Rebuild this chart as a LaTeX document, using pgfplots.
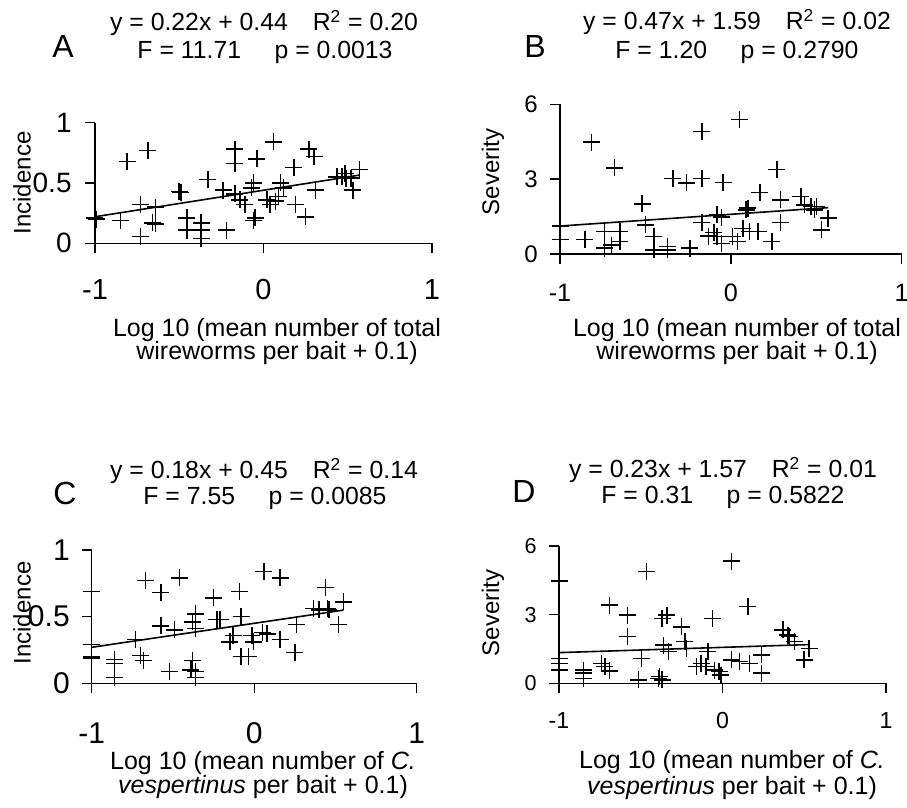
\documentclass[border=0pt]{standalone}
\usepackage{pgfplots}
\pgfplotsset{compat=1.18}
\usepackage{fontspec}
\setmainfont{Liberation Sans}

\newcommand{\fs}[1]{\fontsize{#1}{#1}\selectfont}

\pgfplotsset{
  panel/.style={
    scale only axis, clip=false,
    axis lines=left, axis line style={-, line width=0.7pt},
    tick align=outside, major tick length=5pt,
    tick style={line width=0.7pt, black},
    xmin=-1, xmax=1, xtick={-1,0,1}, xticklabels={-1,0,1},
    anchor=south west,
  },
  pts/.style={only marks, mark=+, mark size=4.25pt, mark options={line width=0.75pt}, black},
  fit/.style={black, line width=0.8pt, no marks},
}

\begin{document}
\begin{tikzpicture}
\useasboundingbox (0,0) rectangle (453.5pt,404pt);

% ---------- A ----------
\begin{axis}[panel, at={(47.5pt,282.35pt)}, width=168.5pt, height=60.3pt,
  ymin=0, ymax=1, ytick={0,0.5,1}, yticklabels={0,0.5,1},
  xticklabel style={font=\fs{14.5}, anchor=center, inner sep=0pt, yshift=-18.3pt},
  yticklabel style={font=\fs{14}, anchor=east, inner sep=0pt, xshift=-6.5pt}]
\addplot[pts] coordinates {
(-0.81,0.68) (-0.686,0.77) (-1.0,0.21) (-0.99,0.20) (-0.85,0.19) (-0.73,0.32)
(-0.73,0.055) (-0.64,0.30) (-0.66,0.17) (-0.64,0.16) (-0.50,0.43) (-0.49,0.42)
(-0.455,0.21) (-0.455,0.11) (-0.37,0.17) (-0.37,0.11) (-0.37,0.04) (-0.33,0.53)
(-0.24,0.44) (-0.22,0.11) (-0.17,0.78) (-0.17,0.66) (-0.17,0.41) (-0.14,0.36)
(-0.11,0.32) (-0.04,0.70) (-0.06,0.50) (-0.07,0.46) (-0.05,0.21) (-0.06,0.19)
(0.02,0.36) (0.04,0.32) (0.06,0.84) (0.10,0.50) (0.12,0.46) (0.09,0.39)
(0.07,0.35) (0.18,0.63) (0.19,0.32) (0.25,0.22) (0.27,0.78) (0.30,0.72)
(0.31,0.44) (0.435,0.55) (0.465,0.55) (0.485,0.58) (0.52,0.54) (0.53,0.44)
(0.57,0.61) (0.49,0.54)
};
\addplot[fit] coordinates {(-1,0.22) (0.57,0.5654)};
\end{axis}
\node[font=\fs{16}] at (31.5pt,380.5pt) {A};
\node[font=\fs{12.4}] at (132pt,392.5pt) {y = 0.22x + 0.44\hspace{1em}R\textsuperscript{2} = 0.20};
\node[font=\fs{12.4}] at (132.5pt,378pt) {F = 11.71\hspace{1.35em}p = 0.0013};
\node[font=\fs{12}, rotate=90] at (11pt,312.5pt) {Incidence};
\node[font=\fs{12.5}] at (138.5pt,239pt) {Log 10 (mean number of total};
\node[font=\fs{12.5}] at (138.5pt,227.5pt) {wireworms per bait + 0.1)};

% ---------- B ----------
\begin{axis}[panel, at={(280pt,277pt)}, width=170.85pt, height=74.85pt,
  ymin=0, ymax=6, ytick={0,3,6}, yticklabels={0,3,6},
  xticklabel style={font=\fs{12.6}, anchor=center, inner sep=0pt, yshift=-14.5pt},
  yticklabel style={font=\fs{12}, anchor=east, inner sep=0pt, xshift=-6pt}]
\addplot[pts] coordinates {
(-0.815,4.48) (-0.68,3.45) (-1,0.59) (-1,1.12) (-0.855,0.59) (-0.74,0.90)
(-0.74,0.23) (-0.65,0.90) (-0.65,0.50) (-0.70,0.36) (-0.52,2.01) (-0.50,1.17)
(-0.45,0.70) (-0.45,0.16) (-0.37,0.30) (-0.37,0.16) (-0.34,3.02) (-0.26,2.85)
(-0.24,0.23) (-0.17,4.90) (-0.17,3.02) (-0.17,1.26) (-0.13,0.72) (-0.10,0.86)
(-0.08,0.70) (-0.08,1.57) (-0.055,1.48) (-0.045,2.87) (-0.055,0.43) (0.01,0.70)
(0.04,0.50) (0.05,5.40) (0.07,1.03) (0.09,1.77) (0.10,1.84) (0.11,0.90)
(0.16,0.90) (0.17,2.47) (0.24,0.50) (0.27,3.38) (0.29,2.17) (0.29,1.26)
(0.41,2.31) (0.43,1.97) (0.47,1.91) (0.49,1.77) (0.50,1.91) (0.53,0.97)
(0.57,1.44)
};
\addplot[fit] coordinates {(-1,1.12) (0.57,1.858)};
\end{axis}
\node[font=\fs{16}] at (267.5pt,380.5pt) {B};
\node[font=\fs{12.4}] at (368.5pt,393pt) {y = 0.47x + 1.59\hspace{1em}R\textsuperscript{2} = 0.02};
\node[font=\fs{12.4}] at (368.5pt,378pt) {F = 1.20\hspace{1.35em}p = 0.2790};
\node[font=\fs{12}, rotate=90] at (246.5pt,318pt) {Severity};
\node[font=\fs{12.5}] at (368.5pt,239pt) {Log 10 (mean number of total};
\node[font=\fs{12.5}] at (368.5pt,227.5pt) {wireworms per bait + 0.1)};

% ---------- C ----------
\begin{axis}[panel, at={(45.85pt,62.35pt)}, width=162.5pt, height=66.65pt,
  ymin=0, ymax=1, ytick={0,0.5,1}, yticklabels={0,0.5,1},
  xticklabel style={font=\fs{15}, anchor=center, inner sep=0pt, yshift=-20pt},
  yticklabel style={font=\fs{15}, anchor=east, inner sep=0pt, xshift=-5.8pt}]
\addplot[pts] coordinates {
(-1,0.69) (-1,0.29) (-1,0.20) (-1,0.19) (-0.86,0.18) (-0.86,0.15)
(-0.86,0.045) (-0.73,0.33) (-0.70,0.21) (-0.68,0.17) (-0.67,0.77) (-0.575,0.68)
(-0.575,0.43) (-0.49,0.40) (-0.52,0.09) (-0.46,0.79) (-0.38,0.46) (-0.36,0.52)
(-0.36,0.41) (-0.38,0.17) (-0.39,0.10) (-0.36,0.09) (-0.36,0.045) (-0.25,0.64)
(-0.23,0.48) (-0.21,0.48) (-0.15,0.31) (-0.13,0.36) (-0.09,0.69) (-0.08,0.50)
(-0.08,0.20) (-0.035,0.20) (-0.015,0.36) (-0.005,0.31) (0.05,0.38) (0.08,0.37)
(0.06,0.84) (0.16,0.79) (0.16,0.33) (0.26,0.44) (0.25,0.23) (0.365,0.56)
(0.40,0.55) (0.44,0.72) (0.45,0.56) (0.46,0.55) (0.52,0.44) (0.55,0.61)
};
\addplot[fit] coordinates {(-1,0.27) (0.55,0.549)};
\end{axis}
\node[font=\fs{16}] at (32.5pt,157.5pt) {C};
\node[font=\fs{12.4}] at (132pt,168.5pt) {y = 0.18x + 0.45\hspace{1em}R\textsuperscript{2} = 0.14};
\node[font=\fs{12.4}] at (132.5pt,155pt) {F = 7.55\hspace{1.35em}p = 0.0085};
\node[font=\fs{12}, rotate=90] at (11pt,97.5pt) {Incidence};
\node[font=\fs{12.5}] at (131.5pt,22.5pt) {Log 10 (mean number of \textit{C.}};
\node[font=\fs{12.5}] at (131.5pt,10.5pt) {\textit{vespertinus} per bait + 0.1)};

% ---------- D ----------
\begin{axis}[panel, at={(279.5pt,62.35pt)}, width=163.5pt, height=68.65pt,
  ymin=0, ymax=6, ytick={0,3,6}, yticklabels={0,3,6},
  xticklabel style={font=\fs{11.6}, anchor=center, inner sep=0pt, yshift=-13.5pt},
  yticklabel style={font=\fs{10.8}, anchor=east, inner sep=0pt, xshift=-6pt}]
\addplot[pts] coordinates {
(-1,4.47) (-1,1.09) (-1,0.87) (-1,0.58) (-0.85,0.58) (-0.85,0.44)
(-0.85,0.22) (-0.74,0.87) (-0.72,0.73) (-0.69,0.54) (-0.69,3.42) (-0.58,2.98)
(-0.58,2.04) (-0.515,0.15) (-0.495,1.09) (-0.465,4.88) (-0.39,0.22) (-0.385,0.29)
(-0.37,0.15) (-0.36,1.67) (-0.37,2.84) (-0.34,2.98) (-0.33,1.38) (-0.25,2.47)
(-0.23,1.82) (-0.22,1.53) (-0.16,0.73) (-0.13,0.87) (-0.10,0.73) (-0.09,1.38)
(-0.06,2.84) (-0.05,0.58) (-0.02,0.51) (-0.01,0.36) (0.055,1.02) (0.055,5.34)
(0.105,0.95) (0.155,3.35) (0.165,0.87) (0.24,1.24) (0.24,0.44) (0.37,2.33)
(0.40,2.11) (0.41,2.04) (0.44,1.82) (0.50,1.02) (0.53,1.53)
};
\addplot[fit] coordinates {(-1,1.34) (0.53,1.692)};
\end{axis}
\node[font=\fs{16}] at (262pt,158pt) {D};
\node[font=\fs{12.4}] at (361.5pt,169pt) {y = 0.23x + 1.57\hspace{1em}R\textsuperscript{2} = 0.01};
\node[font=\fs{12.4}] at (361.5pt,155.5pt) {F = 0.31\hspace{1.35em}p = 0.5822};
\node[font=\fs{12}, rotate=90] at (246.5pt,97.5pt) {Severity};
\node[font=\fs{12.5}] at (366pt,23pt) {Log 10 (mean number of \textit{C.}};
\node[font=\fs{12.5}] at (366pt,10pt) {\textit{vespertinus} per bait + 0.1)};
\end{tikzpicture}
\end{document}
